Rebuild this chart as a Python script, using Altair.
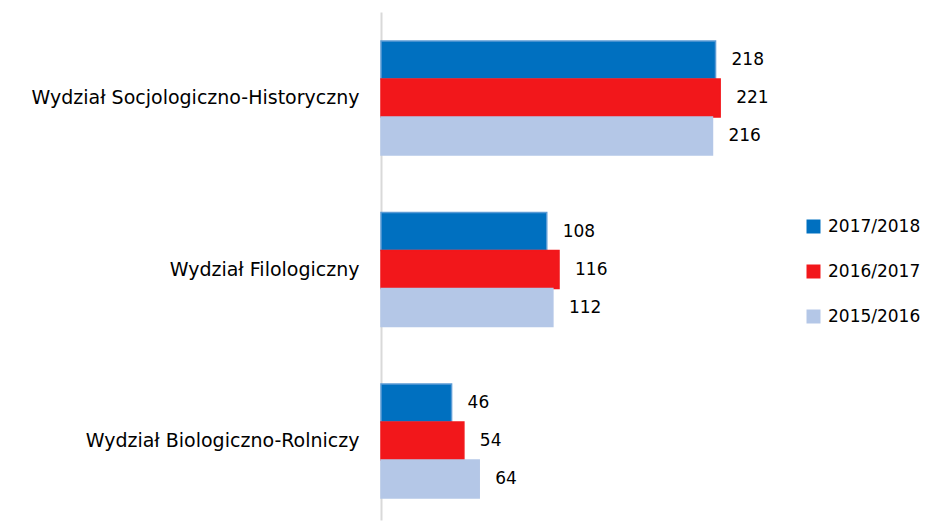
import altair as alt
import pandas as pd

categories = ["Wydział Socjologiczno-Historyczny", "Wydział Filologiczny", "Wydział Biologiczno-Rolniczy"]
series = ["2017/2018", "2016/2017", "2015/2016"]
v_2017_2018 = [218, 108, 46]
v_2016_2017 = [221, 116, 54]
v_2015_2016 = [216, 112, 64]
colors = ["#0070C0", "#F2171B", "#B4C7E7"]
strokes = ["#5B9BD5", "#F2171B", "#B4C7E7"]

rows = []
for s, vals in zip(series, [v_2017_2018, v_2016_2017, v_2015_2016]):
    for c, v in zip(categories, vals):
        rows.append({"cat": c, "series": s, "value": v})
df = pd.DataFrame(rows)

FONT = "DejaVu Sans"

y = alt.Y("cat:N", sort=categories,
          scale=alt.Scale(paddingInner=0.335, paddingOuter=0.1487, align=0.57),
          axis=alt.Axis(title=None, ticks=False, labelFontSize=19, labelFont=FONT,
                        labelColor="#000000", labelPadding=22, domainColor="#D9D9D9",
                        domainWidth=2, labelLimit=400))
x = alt.X("value:Q", scale=alt.Scale(domain=[0, 260], nice=False), axis=None)
yoff = alt.YOffset("series:N", sort=series)

bars = alt.Chart(df).mark_bar(strokeWidth=1.5).encode(
    y=y, x=x, yOffset=yoff,
    color=alt.Color("series:N", sort=series,
                    scale=alt.Scale(domain=series, range=colors),
                    legend=alt.Legend(title=None, orient="none", legendX=424, legendY=206,
                                      symbolType="square", symbolSize=196,
                                      symbolStrokeWidth=0, labelFontSize=17,
                                      labelFont=FONT, labelColor="#000000",
                                      rowPadding=27, labelOffset=6, labelLimit=200)),
    stroke=alt.Stroke("series:N", sort=series,
                      scale=alt.Scale(domain=series, range=strokes), legend=None),
)

labels = alt.Chart(df).mark_text(align="left", baseline="middle", dx=16,
                                 fontSize=17, font=FONT, color="#000000").encode(
    y=y, x=x, yOffset=yoff, text="value:Q"
)

chart = (bars + labels).properties(
    width=399, height=508,
    autosize=alt.AutoSizeParams(type="none"),
    padding={"left": 373, "top": 4, "right": 140, "bottom": 2},
).configure_view(stroke=None)

chart.save("out.html", embed_options={"renderer": "svg", "actions": False})
